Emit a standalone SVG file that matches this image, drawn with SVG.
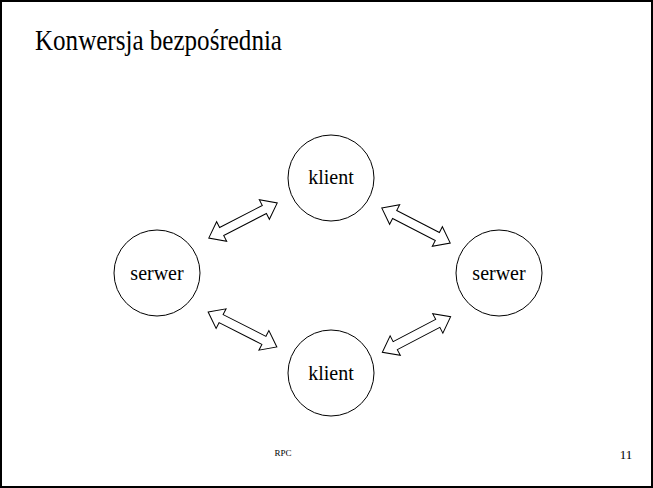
<svg xmlns="http://www.w3.org/2000/svg" width="653" height="488" viewBox="0 0 653 488">
  <style>
    .frame { fill: #ffffff; stroke: #000000; stroke-width: 2; }
    .node circle { fill: #ffffff; stroke: #000000; stroke-width: 1; }
    .node text { font-family: "Liberation Serif", "Times New Roman", serif; font-size: 20px; text-anchor: middle; fill: #000000; }
    .title { font-family: "Liberation Serif", "Times New Roman", serif; font-size: 29px; fill: #000000; }
    .foot { font-family: "Liberation Serif", "Times New Roman", serif; fill: #000000; }
    .dbl { fill: #ffffff; stroke: #000000; stroke-width: 1; stroke-linejoin: miter; }
  </style>
  <defs>
    <!-- double-headed block arrow, centred on the origin, pointing along x -->
    <polygon id="dblArrow" class="dbl" points="-38.5,0 -24,-11 -24,-4.5 24,-4.5 24,-11 38.5,0 24,11 24,4.5 -24,4.5 -24,11"/>
  </defs>

  <rect class="frame" x="1" y="1" width="651" height="486"/>

  <text class="title" x="35" y="50" textLength="247" lengthAdjust="spacingAndGlyphs">Konwersja bezpośrednia</text>

  <g id="klient-top" class="node">
    <circle cx="331" cy="178" r="43"/>
    <text x="331" y="184">klient</text>
  </g>
  <g id="serwer-left" class="node">
    <circle cx="157" cy="273" r="43"/>
    <text x="157" y="280">serwer</text>
  </g>
  <g id="serwer-right" class="node">
    <circle cx="499" cy="273" r="43"/>
    <text x="499" y="280">serwer</text>
  </g>
  <g id="klient-bottom" class="node">
    <circle cx="331" cy="373" r="43"/>
    <text x="331" y="380">klient</text>
  </g>

  <g id="connectors">
    <use href="#dblArrow" transform="translate(243,220.5) rotate(-27.2)"/>
    <use href="#dblArrow" transform="translate(416,225.5) rotate(27.2)"/>
    <use href="#dblArrow" transform="translate(242.5,329.5) rotate(26.9)"/>
    <use href="#dblArrow" transform="translate(416.5,334.5) rotate(-27.6)"/>
  </g>

  <text class="foot" x="283" y="456" font-size="9" text-anchor="middle">RPC</text>
  <text class="foot" x="626" y="459" font-size="13" text-anchor="middle">11</text>
</svg>
